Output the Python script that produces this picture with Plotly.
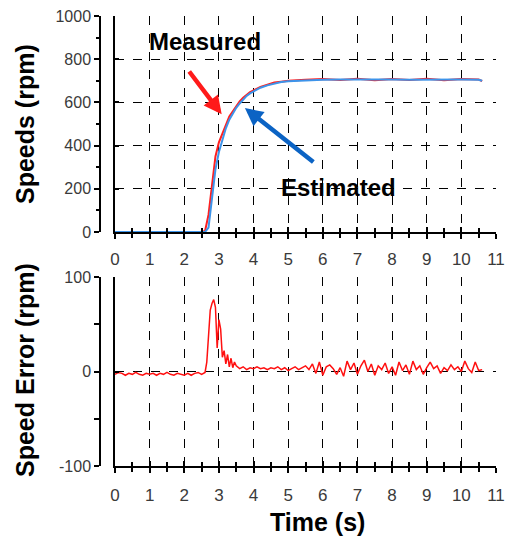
import plotly.graph_objects as go

# ---------------- data ----------------
t_speed = [0, 0.5, 1, 1.5, 2, 2.5, 2.6, 2.7, 2.8, 2.9, 3.0, 3.1, 3.2, 3.3, 3.4, 3.5, 3.6,
           3.7, 3.8, 3.9, 4.0, 4.2, 4.4, 4.6, 4.8, 5.0, 5.5, 6.0, 6.5, 7.0, 7.5, 8.0,
           8.5, 9.0, 9.5, 10.0, 10.5, 10.6]
speed_estimated = [0, 0, 0, 0, 0, 0, 0, 20, 150, 290, 370, 430, 480, 520, 550, 575, 595,
                   615, 630, 642, 652, 668, 679, 688, 694, 698, 702, 705, 706, 707, 706, 706,
                   705, 706, 706, 706, 705, 700]
speed_measured = [0, 0, 0, 0, 0, 0, 5, 80, 215, 350, 415, 460, 495, 535, 560, 585, 605,
                  622, 635, 648, 656, 672, 682, 692, 696, 700, 705, 708, 704, 710, 703, 708,
                  704, 709, 703, 708, 706, 698]

t_error = [0, 0.1, 0.2, 0.3, 0.4, 0.5, 0.6, 0.7, 0.8, 0.9, 1.0, 1.1, 1.2, 1.3, 1.4, 1.5,
           1.6, 1.7, 1.8, 1.9, 2.0, 2.1, 2.2, 2.3, 2.4, 2.5, 2.6,
           2.65, 2.7, 2.75, 2.8, 2.85, 2.9, 2.95, 3.0, 3.05, 3.1, 3.15, 3.2, 3.25, 3.3,
           3.35, 3.4, 3.45,
           3.5, 3.6, 3.7, 3.8, 3.9, 4.0, 4.1, 4.2, 4.3, 4.4, 4.5, 4.6, 4.7, 4.8, 4.9,
           5.0, 5.1, 5.2, 5.3, 5.4, 5.5, 5.6, 5.7, 5.8, 5.9, 6.0, 6.1, 6.2, 6.3, 6.4,
           6.5, 6.6, 6.7, 6.8, 6.9, 7.0, 7.1, 7.2, 7.3, 7.4, 7.5, 7.6, 7.7, 7.8, 7.9,
           8.0, 8.1, 8.2, 8.3, 8.4, 8.5, 8.6, 8.7, 8.8, 8.9, 9.0, 9.1, 9.2, 9.3, 9.4,
           9.5, 9.6, 9.7, 9.8, 9.9, 10.0, 10.1, 10.2, 10.3, 10.4, 10.5, 10.6]
speed_error = [-3, -1, -2, -4, -2, -3, -1, -3, -4, -2, -3, -2, -4, -2, -3, -1,
               -3, -4, -2, -3, -4, -2, -4, -2, -1, -3, -1,
               10, 45, 65, 72, 76, 68, 25, 55, 45, 15, 22, 8, 18, 5,
               14, 4, 10,
               6, 3, 5, 2, 4, 3, 5, 3, 4, 2, 4, 3, 5, 2, 4,
               1, 3, 5, 2, 4, 6, 2, 8, -2, 10, -4, 5, 7, 3, -3,
               4, -5, 11, 2, 9, -3, 6, 12, 0, 8, -4, 6, 2, 9, -2,
               5, -4, 10, 1, 7, -3, 11, 2, 6, -3, 4, 10, 3, 6, -2,
               4, 1, 7, 2, 5, 0, 11, 3, -1, 10, 1, 2]

x_ticks = list(range(0, 12))
speed_ticks = [0, 200, 400, 600, 800, 1000]
error_ticks = [-100, 0, 100]
error_ticktext = ["-100", "0", "100"]

# ---------------- layout geometry ----------------
W, H = 508, 538
def px(x):
    return x / W
def py(y):
    return 1 - y / H

xdom = [px(115), px(496)]
ydom_top = [py(232), py(16)]
ydom_bot = [py(466), py(277)]
ypos_free = px(100)

FONT = "Liberation Sans, Arial, sans-serif"
TICKCOL = "#3a3a3a"

fig = go.Figure()

fig.add_trace(go.Scatter(x=t_speed, y=speed_measured, mode="lines", name="Measured",
                         line=dict(color="#ff2020", width=2), xaxis="x", yaxis="y",
                         showlegend=False))
fig.add_trace(go.Scatter(x=t_speed, y=speed_estimated, mode="lines", name="Estimated",
                         line=dict(color="#3d94ea", width=2), xaxis="x", yaxis="y",
                         showlegend=False))
fig.add_trace(go.Scatter(x=t_error, y=speed_error, mode="lines", name="Error",
                         line=dict(color="#ff1010", width=1.5),
                         xaxis="x2", yaxis="y2", showlegend=False))
# helper (empty) traces so the overlay axes get drawn
for xa, ya in [("x3", "y"), ("x", "y3"), ("x4", "y2"), ("x2", "y4")]:
    fig.add_trace(go.Scatter(x=[None], y=[None], xaxis=xa, yaxis=ya, showlegend=False,
                             hoverinfo="skip", mode="lines"))

xcommon = dict(domain=xdom, range=[0, 11], tickmode="array", tickvals=x_ticks,
               automargin=False,
               zeroline=False, linecolor="black", linewidth=2, showline=True,
               showgrid=True, gridcolor="black", griddash="dash", gridwidth=1,
               ticks="outside", ticklen=5, tickcolor="black", tickwidth=1.5,
               minor=dict(dtick=0.5, ticks="outside", ticklen=4, tickcolor="black",
                          tickwidth=1.5, showgrid=False),
               tickfont=dict(family=FONT, size=17, color=TICKCOL))
xover = dict(domain=xdom, range=[0, 11], tickmode="array", tickvals=x_ticks,
             automargin=False,
             showline=False, showgrid=False, zeroline=False, showticklabels=False,
             ticks="inside", ticklen=5, tickcolor="black", tickwidth=1.5,
             minor=dict(dtick=0.5, ticks="inside", ticklen=4, tickcolor="black",
                        tickwidth=1.5, showgrid=False))

fig.update_layout(
    width=W, height=H, margin=dict(l=0, r=0, t=0, b=0, autoexpand=False),
    paper_bgcolor="white", plot_bgcolor="white",
    xaxis=dict(**xcommon, anchor="y", ticklabelstandoff=6),
    xaxis2=dict(**xcommon, anchor="y2", ticklabelstandoff=8),
    xaxis3=dict(**xover, anchor="y", overlaying="x"),
    xaxis4=dict(**xover, anchor="y2", overlaying="x2"),
    yaxis=dict(domain=ydom_top, range=[0, 1000], anchor="x", tickmode="array",
               automargin=False,
               tickvals=speed_ticks, showticklabels=False, showline=True,
               linecolor="black", linewidth=2, zeroline=False, showgrid=True,
               gridcolor="black", griddash="dash", gridwidth=1,
               ticks="inside", ticklen=4, tickcolor="black", tickwidth=1.5),
    yaxis3=dict(range=[0, 1000], anchor="free", position=ypos_free, overlaying="y",
                automargin=False,
                tickmode="array", tickvals=speed_ticks, showline=True,
                linecolor="black", linewidth=1.5, showgrid=False, zeroline=False,
                ticks="outside", ticklen=5, tickcolor="black", tickwidth=1.5,
                minor=dict(dtick=100, ticks="outside", ticklen=3, tickcolor="black",
                           tickwidth=1.5, showgrid=False),
                tickfont=dict(family=FONT, size=16, color=TICKCOL)),
    yaxis2=dict(domain=ydom_bot, range=[-100, 100], anchor="x2", tickmode="array",
                automargin=False,
                tickvals=error_ticks, showticklabels=False, showline=True,
                linecolor="black", linewidth=2, zeroline=False, showgrid=True,
                gridcolor="black", griddash="dash", gridwidth=1,
                ticks="inside", ticklen=4, tickcolor="black", tickwidth=1.5),
    yaxis4=dict(range=[-100, 100], anchor="free", position=ypos_free, overlaying="y2",
                automargin=False,
                tickmode="array", tickvals=error_ticks, ticktext=error_ticktext,
                showline=True,
                linecolor="black", linewidth=1.5, showgrid=False, zeroline=False,
                ticks="outside", ticklen=5, tickcolor="black", tickwidth=1.5,
                minor=dict(dtick=50, ticks="outside", ticklen=5, tickcolor="black",
                           tickwidth=1.5, showgrid=False),
                tickfont=dict(family=FONT, size=16, color=TICKCOL)),
)

TFONT = dict(family=FONT, size=25, color="black", weight="bold")
LFONT = dict(family=FONT, size=24, color="black", weight="bold")

annotations = [
    dict(text="Speeds (rpm)", x=px(25), y=py(124), xref="paper", yref="paper",
         textangle=-90, showarrow=False, font=TFONT, xanchor="center", yanchor="middle"),
    dict(text="Speed Error (rpm)", x=px(25), y=py(370), xref="paper", yref="paper",
         textangle=-90, showarrow=False, font=TFONT, xanchor="center", yanchor="middle"),
    dict(text="Time (s)", x=px(317), y=py(522), xref="paper", yref="paper",
         showarrow=False, font=TFONT, xanchor="center", yanchor="middle"),
    dict(text="Measured", x=2.6, y=880, xref="x", yref="y", showarrow=False,
         font=LFONT, xanchor="center", yanchor="middle"),
    dict(text="Estimated", x=6.44, y=204, xref="x", yref="y", showarrow=False,
         font=LFONT, xanchor="center", yanchor="middle"),
    dict(text="", x=3.08, y=545, ax=2.11, ay=750, xref="x", yref="y", axref="x", ayref="y",
         showarrow=True, arrowhead=2, arrowsize=0.8, arrowwidth=4.5, arrowcolor="#ff1a1a"),
    dict(text="", x=3.75, y=574, ax=5.77, ay=319, xref="x", yref="y", axref="x", ayref="y",
         showarrow=True, arrowhead=2, arrowsize=0.8, arrowwidth=4.5, arrowcolor="#0b63c4"),
]
fig.update_layout(annotations=annotations)

fig.write_html("out.html", config={"displayModeBar": False},
               post_script="document.body.style.margin='0px';")
